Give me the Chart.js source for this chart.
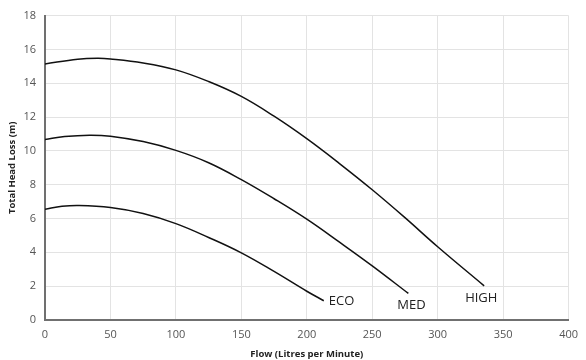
<!DOCTYPE html>
<html>
<head>
<meta charset="utf-8">
<script src="https://cdn.jsdelivr.net/npm/chart.js@4"></script>
<style>
html,body{margin:0;padding:0;background:#fff;}
#wrap{width:586px;height:360px;position:relative;}
</style>
</head>
<body>
<div id="wrap"><canvas id="c" width="586" height="360"></canvas></div>
<script>
// Flow (L/min) and head (m)
const highFlow = [0, 25, 40, 50, 75, 100, 125, 150, 175, 200, 225, 250, 275, 300, 335.5];
const highHead = [15.14, 15.42, 15.48, 15.44, 15.2, 14.79, 14.1, 13.22, 12.05, 10.72, 9.25, 7.7, 6.05, 4.33, 2.02];
const medFlow = [0, 15, 34, 50, 75, 100, 125, 150, 175, 200, 225, 250, 277.6];
const medHead = [10.68, 10.85, 10.93, 10.87, 10.55, 10.03, 9.3, 8.3, 7.17, 5.96, 4.6, 3.2, 1.57];
const ecoFlow = [0, 13, 26, 50, 75, 100, 125, 150, 175, 200, 213];
const ecoHead = [6.55, 6.72, 6.77, 6.65, 6.3, 5.7, 4.88, 3.97, 2.87, 1.7, 1.14];
const seriesNames = ['ECO', 'MED', 'HIGH'];
const xTicks = [0, 50, 100, 150, 200, 250, 300, 350, 400];
const yTicks = [0, 2, 4, 6, 8, 10, 12, 14, 16, 18];

const toPts = (xs, ys) => xs.map((x, i) => ({x: x, y: ys[i]}));
const FONT = '"Open Sans", Lato, sans-serif';

const endLabels = {
  id: 'endLabels',
  afterDatasetsDraw(chart) {
    const ctx = chart.ctx;
    const offsets = [[5, 1], [-11, 12], [-19, 12]];
    ctx.save();
    ctx.font = '13px ' + FONT;
    ctx.fillStyle = '#222';
    ctx.textAlign = 'left';
    ctx.textBaseline = 'middle';
    chart.data.datasets.forEach((ds, i) => {
      const last = ds.data[ds.data.length - 1];
      const px = chart.scales.x.getPixelForValue(last.x);
      const py = chart.scales.y.getPixelForValue(last.y);
      ctx.fillText(ds.label, px + offsets[i][0], py + offsets[i][1]);
    });
    ctx.restore();
  }
};

const mkDs = (label, xs, ys) => ({
  label: label,
  data: toPts(xs, ys),
  borderColor: '#111',
  borderWidth: 1.5,
  pointRadius: 0,
  fill: false,
  tension: 0.4,
  showLine: true
});

new Chart(document.getElementById('c'), {
  type: 'scatter',
  data: {
    datasets: [
      mkDs(seriesNames[0], ecoFlow, ecoHead),
      mkDs(seriesNames[1], medFlow, medHead),
      mkDs(seriesNames[2], highFlow, highHead)
    ]
  },
  plugins: [endLabels],
  options: {
    responsive: false,
    animation: false,
    layout: {padding: {top: 15, right: 15, left: 3, bottom: 0}},
    plugins: {legend: {display: false}, tooltip: {enabled: false}},
    scales: {
      x: {
        type: 'linear',
        min: 0, max: 400,
        afterBuildTicks: (s) => { s.ticks = xTicks.map(v => ({value: v})); },
        afterFit: (s) => { s.height = 40; },
        grid: {color: '#e3e3e3', lineWidth: 1, drawTicks: false},
        border: {color: '#707070', width: 2},
        ticks: {color: '#555', font: {family: FONT, size: 11}, padding: 8, maxRotation: 0},
        title: {display: true, text: 'Flow (Litres per Minute)', color: '#222',
                font: {family: FONT, size: 9.5, weight: 'bold'}, padding: {top: 2, bottom: 0}}
      },
      y: {
        type: 'linear',
        min: 0, max: 18,
        afterBuildTicks: (s) => { s.ticks = yTicks.map(v => ({value: v})); },
        afterFit: (s) => { s.width = 42; },
        grid: {color: '#e3e3e3', lineWidth: 1, drawTicks: false},
        border: {color: '#707070', width: 2},
        ticks: {color: '#555', font: {family: FONT, size: 11}, padding: 9},
        title: {display: true, text: 'Total Head Loss (m)', color: '#222',
                font: {family: FONT, size: 9.5, weight: 'bold'}, padding: {top: 4, bottom: 0}}
      }
    }
  }
});
</script>
</body>
</html>
